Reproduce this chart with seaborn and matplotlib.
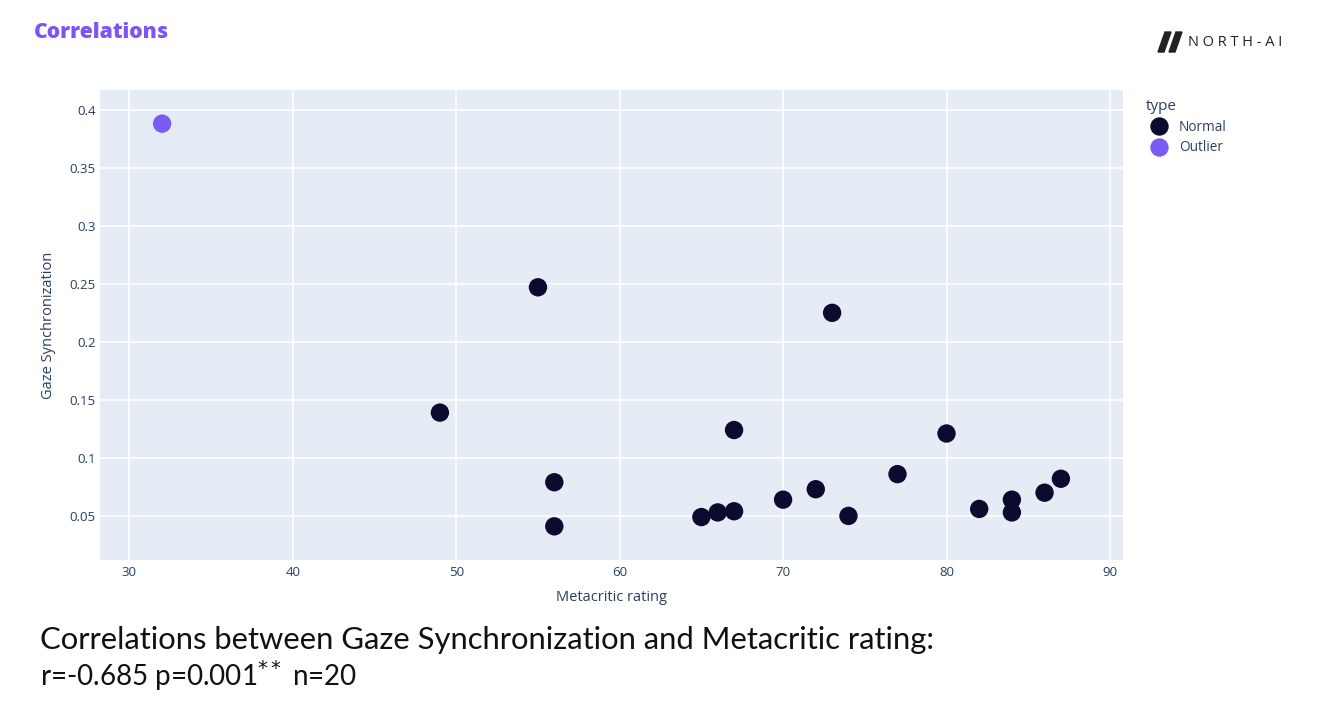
import matplotlib
matplotlib.use("Agg")
import matplotlib.pyplot as plt
import matplotlib.patches as mpatches
import seaborn as sns
import pandas as pd

# ---- data ----
metacritic = [32, 55, 49, 56, 56, 73, 67, 80, 77, 87, 86, 84, 84, 82, 74, 72, 70, 67, 66, 65]
gaze_sync = [0.388, 0.247, 0.139, 0.079, 0.041, 0.225, 0.124, 0.121, 0.086, 0.082,
             0.070, 0.064, 0.053, 0.056, 0.050, 0.073, 0.064, 0.054, 0.053, 0.049]
point_type = ["Outlier"] + ["Normal"] * 19
type_order = ["Normal", "Outlier"]
type_colors = ["#0c0a2e", "#7b5cf3"]
x_ticks = [30, 40, 50, 60, 70, 80, 90]
y_ticks = [0.05, 0.1, 0.15, 0.2, 0.25, 0.3, 0.35, 0.4]

df = pd.DataFrame({"Metacritic rating": metacritic,
                   "Gaze Synchronization": gaze_sync,
                   "type": point_type})

sns.set_theme(style="white")
plt.rcParams["font.family"] = ["Open Sans", "DejaVu Sans"]

fig = plt.figure(figsize=(13.25, 7.07), dpi=100)
ax = fig.add_axes([100 / 1325, 1 - 560 / 707, 1023 / 1325, 470 / 707])
ax.set_facecolor("#e5ecf6")

sns.scatterplot(data=df, x="Metacritic rating", y="Gaze Synchronization", hue="type",
                hue_order=type_order, palette=dict(zip(type_order, type_colors)),
                s=175, linewidth=0, ax=ax, zorder=3)

ax.set_xlim(28.2, 90.8)
ax.set_ylim(0.012, 0.417)
ax.set_xticks(x_ticks)
ax.set_yticks(y_ticks)
ax.set_yticklabels([f"{v:g}" for v in y_ticks])
ax.grid(True, color="white", linewidth=1.2)
ax.set_axisbelow(True)
for s in ax.spines.values():
    s.set_visible(False)
tick_col = "#2a3f5f"
ax.tick_params(axis="x", length=0, labelsize=9.5, colors=tick_col, pad=4)
ax.tick_params(axis="y", length=0, labelsize=9.5, colors=tick_col, pad=3)
ax.set_xlabel("Metacritic rating", fontsize=10.5, color=tick_col, labelpad=8)
ax.set_ylabel("Gaze Synchronization", fontsize=10.5, color=tick_col, labelpad=10)

leg = ax.legend(title="type", loc="upper left", bbox_to_anchor=(1.01, 1.006),
                frameon=False, fontsize=9.8, title_fontsize=11,
                markerscale=1.0, handletextpad=0.45, labelspacing=0.4,
                alignment="left")
for t in leg.get_texts():
    t.set_color(tick_col)
leg.get_title().set_color(tick_col)

# Title
fig.text(34 / 1325, 1 - 32 / 707, "Correlations", fontsize=15.2, fontweight="heavy",
         color="#7b55f5", va="center", ha="left")

# Logo
logo_col = "#222222"
for x0 in (1158, 1169):
    poly = mpatches.Polygon([(x0 / 1325, 1 - 52 / 707), ((x0 + 6) / 1325, 1 - 52 / 707),
                             ((x0 + 13) / 1325, 1 - 32 / 707), ((x0 + 7) / 1325, 1 - 32 / 707)],
                            closed=True, transform=fig.transFigure, color=logo_col)
    fig.patches.append(poly)
fig.text(1188 / 1325, 1 - 43 / 707, "N O R T H - A I", fontsize=10.5, color=logo_col,
         va="center", ha="left")

# Bottom caption
cap_font = ["Lato", "DejaVu Sans"]
fig.text(40 / 1325, 1 - 640 / 707,
         "Correlations between Gaze Synchronization and Metacritic rating:",
         fontsize=22.3, color="#111111", va="center", ha="left", family=cap_font)
fig.text(40 / 1325, 1 - 676 / 707, r"r=-0.685 p=0.001$^{**}$ n=20",
         fontsize=20, color="#111111", va="center", ha="left", family=cap_font)

fig.savefig("out.png", dpi=100, facecolor="white")
